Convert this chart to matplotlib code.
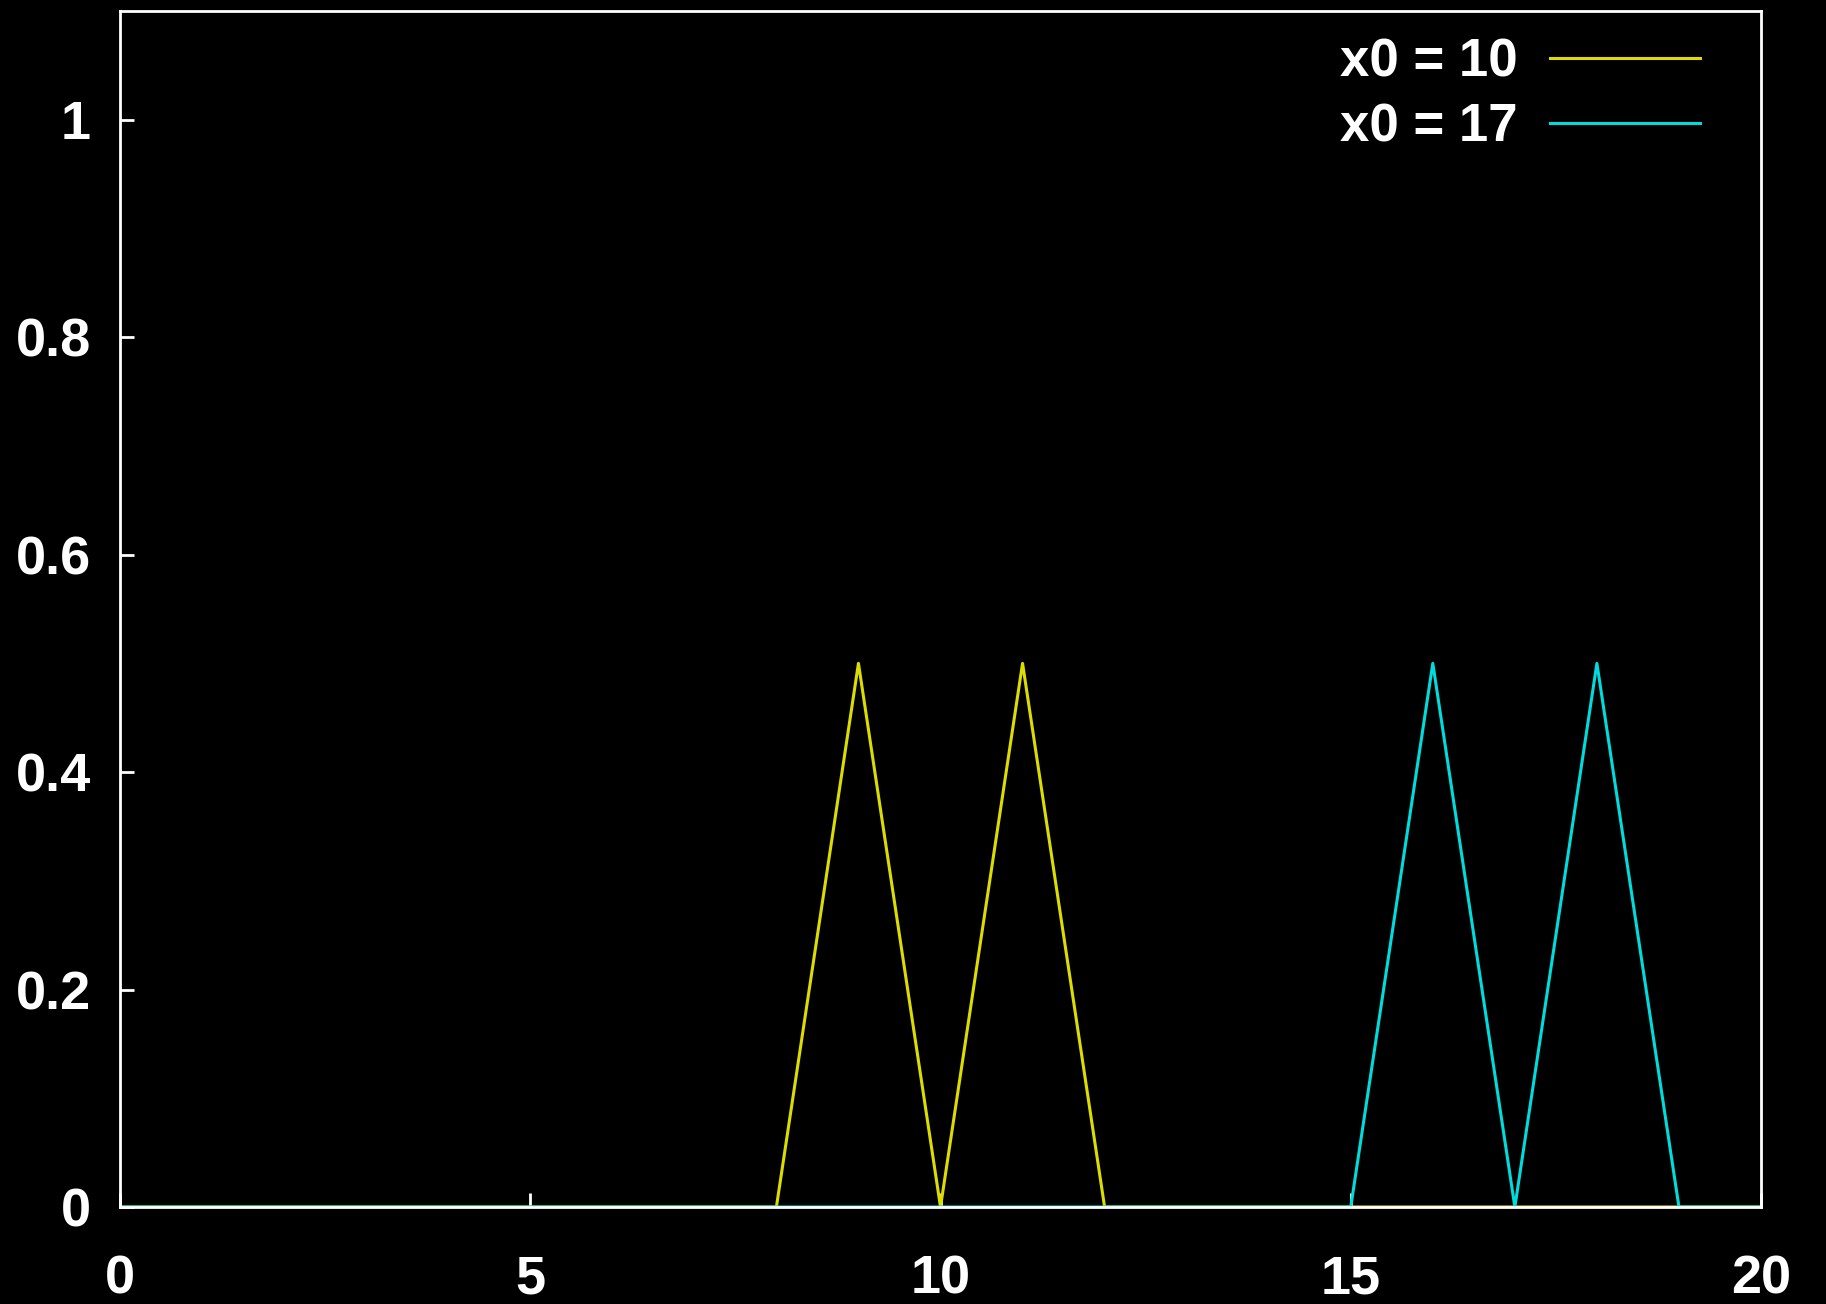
import matplotlib.pyplot as plt

# series
x_a = [0, 8, 9, 10, 11, 12, 20]
y_a = [0, 0, 0.5, 0, 0.5, 0, 0]
x_b = [0, 15, 16, 17, 18, 19, 20]
y_b = [0, 0, 0.5, 0, 0.5, 0, 0]
labels = ["x0 = 10", "x0 = 17"]
xticks = [0, 5, 10, 15, 20]
yticks = [0, 0.2, 0.4, 0.6, 0.8, 1]
ytick_labels = ["0", "0.2", "0.4", "0.6", "0.8", "1"]

plt.rcParams['font.family'] = ['Liberation Sans', 'DejaVu Sans']
plt.rcParams['font.weight'] = 'bold'

fig = plt.figure(figsize=(18.26, 13.04), dpi=100, facecolor='black')
ax = fig.add_axes([120 / 1826, 1 - 1207 / 1304, (1761 - 120) / 1826, (1207 - 11) / 1304])
ax.set_facecolor('black')

ax.plot(x_a, y_a, color='#dcdc00', lw=2.2, label=labels[0])
ax.plot(x_b, y_b, color='#00dcdc', lw=2.2, label=labels[1])

ax.set_xlim(0, 20)
ax.set_ylim(0, 1.1)
ax.set_xticks(xticks)
ax.set_yticks(yticks)
ax.set_yticklabels(ytick_labels)

for s in ax.spines.values():
    s.set_color('white')
    s.set_linewidth(2)

ax.tick_params(axis='both', direction='in', length=10, width=2, colors='white',
               labelsize=39, top=False, right=False)
ax.tick_params(axis='x', pad=34)
ax.tick_params(axis='y', pad=21)

leg = ax.legend(loc='upper right', bbox_to_anchor=(0.979, 1.0), frameon=False,
                markerfirst=False, handlelength=2.85, handletextpad=0.6,
                labelspacing=0.28, borderaxespad=0.1,
                prop={'size': 38, 'weight': 'bold'})
for t in leg.get_texts():
    t.set_color('white')

fig.savefig('out.png', dpi=100, facecolor='black')
